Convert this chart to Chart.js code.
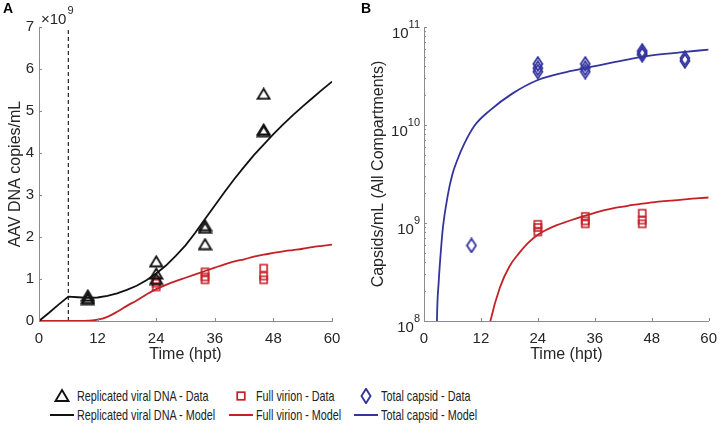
<!DOCTYPE html>
<html>
<head>
<meta charset="UTF-8">
<title>AAV replication model</title>
<script src="https://cdn.jsdelivr.net/npm/chart.js@4.4.1/dist/chart.umd.min.js"></script>
<style>
  body { margin: 0; background: #fff; font-family: "Liberation Sans", Arial, sans-serif; color: #262626; }
  #fig { position: relative; width: 726px; height: 425px; overflow: hidden; }
  .panel { position: absolute; top: 0; width: 363px; height: 370px; }
  .letter { position: absolute; font-weight: bold; font-size: 14px; line-height: 16px; color: #000; }
  .leg { position: absolute; font-size: 15px; line-height: 16px; white-space: nowrap; color: #222;
         transform: scaleX(0.72); transform-origin: left center; }
  .sym { position: absolute; }
</style>
</head>
<body>
<div id="fig">
  <div class="panel" style="left:0"><canvas id="chartA"></canvas></div>
  <div class="panel" style="left:363px"><canvas id="chartB"></canvas></div>
  <div class="letter" style="left:3px;top:0">A</div>
  <div class="letter" style="left:361px;top:0">B</div>

  <svg class="sym" style="left:50px;top:388px" width="24" height="16">
    <path d="M12 2 L18.5 13 L5.5 13 Z" fill="none" stroke="#111" stroke-width="1.9" stroke-linejoin="miter"/>
  </svg>
  <div class="leg" style="left:77px;top:388px">Replicated viral DNA - Data</div>
  <svg class="sym" style="left:50px;top:407px" width="24" height="16">
    <line x1="0" y1="8" x2="24" y2="8" stroke="#111" stroke-width="2"/>
  </svg>
  <div class="leg" style="left:77px;top:407px">Replicated viral DNA - Model</div>

  <svg class="sym" style="left:229px;top:388px" width="24" height="16">
    <rect x="8.2" y="4.2" width="7.6" height="7.6" fill="none" stroke="#c42127" stroke-width="1.7"/>
  </svg>
  <div class="leg" style="left:256px;top:388px">Full virion - Data</div>
  <svg class="sym" style="left:229px;top:407px" width="24" height="16">
    <line x1="0" y1="8" x2="24" y2="8" stroke="#c42127" stroke-width="2"/>
  </svg>
  <div class="leg" style="left:256px;top:407px">Full virion - Model</div>

  <svg class="sym" style="left:354px;top:388px" width="24" height="16">
    <path d="M12 0.8 L16.5 8 L12 15.2 L7.5 8 Z" fill="none" stroke="#34349e" stroke-width="1.9"/>
  </svg>
  <div class="leg" style="left:381px;top:388px">Total capsid - Data</div>
  <svg class="sym" style="left:354px;top:407px" width="24" height="16">
    <line x1="0" y1="8" x2="24" y2="8" stroke="#34349e" stroke-width="2"/>
  </svg>
  <div class="leg" style="left:381px;top:407px">Total capsid - Model</div>
</div>

<script>
// tick positions
const xTicks = [0, 12, 24, 36, 48, 60];
const yTicksA = [0, 1, 2, 3, 4, 5, 6, 7];          // x10^9 copies/mL
const yTicksB = [0.1, 1, 10, 100];                 // x10^9 capsids/mL

// measurements (values in units of 10^9 per mL)
const dnaTime    = [10, 10, 10, 24, 24, 24, 34, 34, 34, 46, 46, 46];
const dnaData    = [0.61, 0.55, 0.52, 1.42, 1.13, 1.0, 2.28, 2.22, 1.83, 5.41, 4.56, 4.52];
const virionTime = [24, 24, 24, 34, 34, 34, 46, 46, 46];
const virionData = [0.97, 0.9, 0.81, 1.17, 1.05, 0.98, 1.26, 1.07, 0.98];
const capsidTime = [10, 24, 24, 24, 34, 34, 34, 46, 46, 46, 55, 55];
const capsidData = [0.59, 42, 38, 35, 42, 38, 35, 57, 54, 52, 48, 45];

// model curves
const modelTime   = [0, 2, 4, 6, 8, 10, 12, 14, 16, 18, 20, 22, 24, 26, 28, 30, 32, 34, 36, 38, 40, 42, 44, 46, 48, 50, 52, 54, 56, 58, 60];
const dnaModel    = [0, 0.19, 0.39, 0.58, 0.565, 0.55, 0.56, 0.6, 0.66, 0.74, 0.84, 0.97, 1.13, 1.32, 1.55, 1.8, 2.1, 2.43, 2.75, 3.07, 3.38, 3.67, 3.95, 4.2, 4.45, 4.68, 4.9, 5.11, 5.31, 5.51, 5.7];
const virionModel = [0, 0, 0, 0, 0.002, 0.008, 0.03, 0.1, 0.22, 0.36, 0.49, 0.63, 0.76, 0.86, 0.95, 1.03, 1.11, 1.19, 1.27, 1.35, 1.42, 1.47, 1.53, 1.58, 1.62, 1.66, 1.69, 1.72, 1.76, 1.79, 1.82];
const capsidModelTime = [2.55, 2.73, 3.1, 3.5, 4, 5, 6, 7, 8.4, 10.6, 13.9, 18.6, 24, 30, 36, 42, 48, 54, 60];
const capsidModel     = [0.018, 0.1, 0.251, 0.479, 0.912, 1.905, 3.16, 4.37, 6.31, 9.77, 14.1, 20.9, 28.8, 34.7, 39.8, 45.7, 51.3, 55.0, 58.9];

const transfectionTime = 6;

const BLACK = '#111111', RED = '#c42127', BLUE = '#34349e', AXIS = '#8c8c8c', TEXT = '#262626';
const FONT = '"Liberation Sans", Arial, sans-serif';

function pts(xs, ys, scale) {
  return xs.map((x, i) => ({ x: x, y: scale ? scale(ys[i]) : ys[i] }));
}

function marker(kind, color) {
  const c = document.createElement('canvas');
  const lw = kind === 'rect' ? 1.6 : 1.8;
  const w = kind === 'triangle' ? 15 : kind === 'rect' ? 11 : 12;
  const h = kind === 'triangle' ? 13 : kind === 'rect' ? 11 : 16;
  c.width = w; c.height = h;
  const g = c.getContext('2d');
  g.strokeStyle = color; g.lineWidth = lw;
  g.beginPath();
  if (kind === 'triangle') {
    g.moveTo(w / 2, 1.5); g.lineTo(w - 1.5, h - 1.5); g.lineTo(1.5, h - 1.5); g.closePath();
  } else if (kind === 'rect') {
    g.rect(2, 2, w - 4, h - 4);
  } else {
    g.moveTo(w / 2, 1.2); g.lineTo(w - 1.5, h / 2); g.lineTo(w / 2, h - 1.2); g.lineTo(1.5, h / 2); g.closePath();
  }
  g.stroke();
  return c;
}

const axisDecor = {
  id: 'axisDecor',
  afterDraw(chart, args, opts) {
    const ctx = chart.ctx, a = chart.chartArea;
    const xs = chart.scales.x, ys = chart.scales.y;
    ctx.save();
    ctx.strokeStyle = AXIS; ctx.lineWidth = 1;
    ctx.beginPath();
    xs.ticks.forEach(t => {
      const px = Math.round(xs.getPixelForValue(t.value)) + 0.5;
      ctx.moveTo(px, a.bottom); ctx.lineTo(px, a.bottom - 3);
    });
    ys.ticks.forEach(t => {
      const py = Math.round(ys.getPixelForValue(t.value)) + 0.5;
      ctx.moveTo(a.left, py); ctx.lineTo(a.left + 3, py);
    });
    if (opts.minor) {
      for (let d = 0; d < yTicksB.length - 1; d++) {
        for (let m = 2; m <= 9; m++) {
          const py = Math.round(ys.getPixelForValue(yTicksB[d] * m)) + 0.5;
          ctx.moveTo(a.left, py); ctx.lineTo(a.left + 2, py);
        }
      }
    }
    ctx.stroke();
    ctx.fillStyle = TEXT;
    ctx.textAlign = 'left';
    ctx.textBaseline = 'alphabetic';
    if (opts.powers) {
      ys.ticks.forEach(t => {
        const py = ys.getPixelForValue(t.value);
        const e = String(Math.round(Math.log10(t.value)) + 9);
        ctx.font = '11px ' + FONT;
        const ew = ctx.measureText(e).width;
        ctx.font = '15px ' + FONT;
        const bw = ctx.measureText('10').width;
        const right = a.left - 4;
        ctx.fillText('10', right - ew - bw, py + 10.5);
        ctx.font = '11px ' + FONT;
        ctx.fillText(e, right - ew, py + 1);
      });
    }
    if (opts.multiplier) {
      ctx.font = '15px ' + FONT;
      ctx.fillText('\u00d710', 41, 23.5);
      const w = ctx.measureText('\u00d710').width;
      ctx.font = '11px ' + FONT;
      ctx.fillText('9', 41 + w + 1, 14);
    }
    ctx.restore();
  }
};

function xAxis() {
  return {
    type: 'linear', min: 0, max: 60,
    afterBuildTicks: s => { s.ticks = xTicks.map(v => ({ value: v })); },
    grid: { display: false, drawTicks: false },
    border: { color: AXIS, width: 1 },
    ticks: { color: TEXT, font: { family: FONT, size: 15 }, padding: 9, maxRotation: 0 },
    title: { display: true, text: 'Time (hpt)', color: TEXT, font: { family: FONT, size: 16 }, padding: { top: 0, bottom: 6 } },
    afterFit: s => { s.height = 49; }
  };
}

const common = {
  responsive: true,
  maintainAspectRatio: false,
  animation: false,
  events: [],
  elements: { line: { fill: false } }
};

new Chart(document.getElementById('chartA'), {
  type: 'scatter',
  data: {
    datasets: [
      { data: pts(modelTime, dnaModel), showLine: true, borderColor: BLACK, borderWidth: 1.8, pointRadius: 0, tension: 0 },
      { data: pts(modelTime, virionModel), showLine: true, borderColor: RED, borderWidth: 1.8, pointRadius: 0, cubicInterpolationMode: 'monotone' },
      { data: [{ x: transfectionTime, y: 0 }, { x: transfectionTime, y: 7 }], showLine: true, borderColor: BLACK, borderWidth: 1.1, borderDash: [4, 3], pointRadius: 0 },
      { data: pts(dnaTime, dnaData), pointStyle: marker('triangle', BLACK), pointRadius: 6, showLine: false },
      { data: pts(virionTime, virionData), pointStyle: marker('rect', RED), pointRadius: 5, showLine: false }
    ]
  },
  options: Object.assign({}, common, {
    layout: { padding: { top: 27, right: 31, left: 0, bottom: 0 } },
    plugins: { legend: { display: false }, tooltip: { enabled: false }, axisDecor: { multiplier: true } },
    scales: {
      x: xAxis(),
      y: {
        type: 'linear', min: 0, max: 7,
        afterBuildTicks: s => { s.ticks = yTicksA.map(v => ({ value: v })); },
        grid: { display: false, drawTicks: false },
        border: { color: AXIS, width: 1 },
        ticks: { color: TEXT, font: { family: FONT, size: 15 }, padding: 5 },
        title: { display: true, text: 'AAV DNA copies/mL', color: TEXT, font: { family: FONT, size: 16 }, padding: { top: 6, bottom: 0 } },
        afterFit: s => { s.width = 39; }
      }
    }
  }),
  plugins: [axisDecor]
});

const toLog = v => (v > 0 ? v : null);

new Chart(document.getElementById('chartB'), {
  type: 'scatter',
  data: {
    datasets: [
      { data: pts(capsidModelTime, capsidModel), showLine: true, borderColor: BLUE, borderWidth: 1.8, pointRadius: 0, cubicInterpolationMode: 'monotone' },
      { data: pts(modelTime, virionModel, toLog), showLine: true, borderColor: RED, borderWidth: 1.8, pointRadius: 0, cubicInterpolationMode: 'monotone' },
      { data: pts(capsidTime, capsidData), pointStyle: marker('diamond', BLUE), pointRadius: 6, showLine: false },
      { data: pts(virionTime, virionData), pointStyle: marker('rect', RED), pointRadius: 5, showLine: false }
    ]
  },
  options: Object.assign({}, common, {
    layout: { padding: { top: 27, right: 9, left: 0, bottom: 0 } },
    plugins: { legend: { display: false }, tooltip: { enabled: false }, axisDecor: { minor: true, powers: true } },
    scales: {
      x: xAxis(),
      y: {
        type: 'logarithmic', min: 0.1, max: 100,
        afterBuildTicks: s => { s.ticks = yTicksB.map(v => ({ value: v })); },
        grid: { display: false, drawTicks: false },
        border: { color: AXIS, width: 1 },
        ticks: { display: false },
        title: { display: true, text: 'Capsids/mL (All Compartments)', color: TEXT, font: { family: FONT, size: 16 }, padding: { top: 6, bottom: 0 } },
        afterFit: s => { s.width = 61; }
      }
    }
  }),
  plugins: [axisDecor]
});
</script>
</body>
</html>
